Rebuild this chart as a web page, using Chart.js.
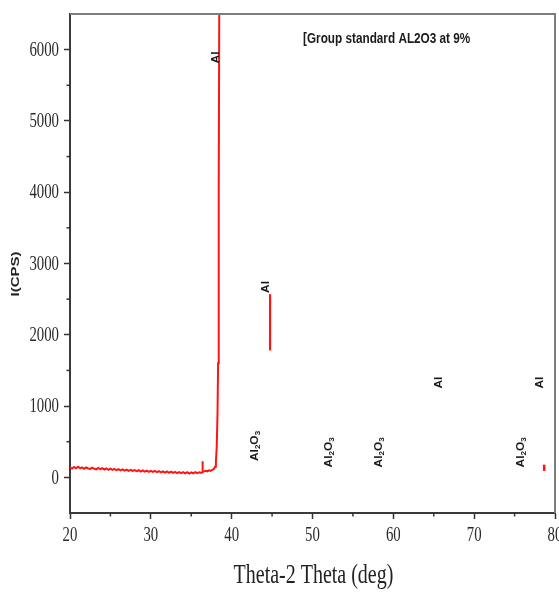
<!DOCTYPE html>
<html>
<head>
<meta charset="utf-8">
<script src="https://cdn.jsdelivr.net/npm/chart.js@4.4.1/dist/chart.umd.min.js"></script>
<style>
  html, body { margin: 0; padding: 0; background: #fff; }
</style>
</head>
<body>
<canvas id="xrdChart" width="559" height="592"></canvas>
<script>
// scan values (2-theta in deg, intensity in CPS)
var thetaScan = [20, 20.25, 20.5, 20.75, 21, 21.25, 21.5, 21.75, 22, 22.25, 22.5, 22.75,
  23, 23.25, 23.5, 23.75, 24, 24.25, 24.5, 24.75, 25, 25.25, 25.5, 25.75,
  26, 26.25, 26.5, 26.75, 27, 27.25, 27.5, 27.75, 28, 28.25, 28.5, 28.75,
  29, 29.25, 29.5, 29.75, 30, 30.25, 30.5, 30.75, 31, 31.25, 31.5, 31.75,
  32, 32.25, 32.5, 32.75, 33, 33.25, 33.5, 33.75, 34, 34.25, 34.5, 34.75,
  35, 35.25, 35.5, 35.75, 36, 36.25, 36.38, 36.4, 36.42, 36.6, 36.8, 37,
  37.2, 37.4, 37.6, 37.8, 37.95, 38.05, 38.15, 38.25, 38.32, 38.4, 38.48];
var cpsScan = [142, 124, 146, 128, 148, 126, 140, 120, 138, 124, 118, 136,
  120, 112, 132, 116, 128, 110, 124, 106, 122, 104, 118, 100,
  114, 98, 112, 94, 108, 92, 106, 90, 102, 86, 100, 82,
  98, 80, 94, 78, 92, 76, 90, 72, 86, 70, 84, 66,
  82, 64, 80, 62, 76, 60, 74, 58, 72, 56, 72, 54,
  70, 56, 74, 58, 72, 62, 72, 225, 80, 84, 92, 84,
  98, 90, 106, 118, 150, 220, 420, 900, 1600, 4000, 7200];

// two short leftover pieces of the trace
var thetaPiece1 = [44.75, 44.75];
var cpsPiece1 = [1780, 2570];
var thetaPiece2 = [78.66, 78.66];
var cpsPiece2 = [90, 178];

// phase markers
var peakNames = ['Al', 'Al', 'Al2O3', 'Al2O3', 'Al2O3', 'Al', 'Al', 'Al2O3'];
var peakTheta = [38.07, 44.26, 42.9, 52.05, 58.24, 65.7, 78.2, 75.8];
var peakCps = [5890, 2670, 440, 350, 350, 1330, 1330, 350];

var xTicks = [20, 30, 40, 50, 60, 70, 80];
var xMinor = [25, 35, 45, 55, 65, 75];
var yTicks = [0, 1000, 2000, 3000, 4000, 5000, 6000];
var yMinor = [500, 1500, 2500, 3500, 4500, 5500];

var headerText = '[Group standard AL2O3 at 9%';
var xTitle = 'Theta-2 Theta (deg)';
var yTitle = 'I(CPS)';

// the original picture is squeezed sideways, so text is drawn narrow
var SX = 0.74;

function toPoints(xs, ys) {
  return xs.map(function (v, i) { return { x: v, y: ys[i] }; });
}

function drawText(ctx, txt, x, y, o) {
  ctx.save();
  ctx.translate(x, y);
  ctx.scale(o.sx || SX, 1);
  if (o.rot) ctx.rotate(o.rot);
  ctx.font = o.font;
  ctx.textAlign = o.align || 'center';
  ctx.textBaseline = o.baseline || 'middle';
  ctx.fillStyle = o.color || '#222';
  ctx.fillText(txt, 0, 0);
  ctx.restore();
}

// rotated Al / Al2O3 label with small subscripts
function drawPhase(ctx, name, x, y) {
  var parts = name === 'Al' ? [['Al', 0]] : [['Al', 0], ['2', 1], ['O', 0], ['3', 1]];
  var mainFont = 'bold 12px "Liberation Sans"';
  var subFont = 'bold 8px "Liberation Sans"';
  ctx.save();
  ctx.translate(x, y);
  ctx.scale(0.85, 1);
  ctx.rotate(-Math.PI / 2);
  ctx.fillStyle = '#1a1a1a';
  ctx.textBaseline = 'middle';
  ctx.textAlign = 'left';
  var total = 0;
  parts.forEach(function (p) {
    ctx.font = p[1] ? subFont : mainFont;
    total += ctx.measureText(p[0]).width;
  });
  var cx = -total / 2;
  parts.forEach(function (p) {
    ctx.font = p[1] ? subFont : mainFont;
    ctx.fillText(p[0], cx, p[1] ? 4 : 0);
    cx += ctx.measureText(p[0]).width;
  });
  ctx.restore();
}

var xrdDecor = {
  id: 'xrdDecor',
  afterDraw: function (chart) {
    var ctx = chart.ctx, a = chart.chartArea;
    var xs = chart.scales.x, ys = chart.scales.y;
    ctx.save();

    // top and right frame
    ctx.strokeStyle = '#7d7d7d';
    ctx.lineWidth = 2;
    ctx.beginPath();
    ctx.moveTo(a.left, a.top);
    ctx.lineTo(a.right, a.top);
    ctx.lineTo(a.right, a.bottom);
    ctx.stroke();

    // minor ticks
    ctx.strokeStyle = '#333';
    ctx.lineWidth = 1.5;
    yMinor.forEach(function (v) {
      var py = ys.getPixelForValue(v);
      ctx.beginPath(); ctx.moveTo(a.left - 3.5, py); ctx.lineTo(a.left, py); ctx.stroke();
    });
    xMinor.forEach(function (v) {
      var px = xs.getPixelForValue(v);
      ctx.beginPath(); ctx.moveTo(px, a.bottom); ctx.lineTo(px, a.bottom + 3.5); ctx.stroke();
    });

    // tick labels
    ys.ticks.forEach(function (t) {
      drawText(ctx, String(t.value), a.left - 11, ys.getPixelForValue(t.value) + 1,
        { font: '20px "Liberation Serif"', align: 'right', color: '#2b2b2b' });
    });
    xs.ticks.forEach(function (t) {
      drawText(ctx, String(t.value), xs.getPixelForValue(t.value), a.bottom + 23,
        { font: '20px "Liberation Serif"', color: '#2b2b2b' });
    });

    // axis titles
    drawText(ctx, xTitle, (a.left + a.right) / 2 + 1, 583,
      { font: '27px "Liberation Serif"', baseline: 'alphabetic', color: '#222' });
    drawText(ctx, yTitle, 16, 274,
      { font: 'bold 15px "Liberation Sans"', rot: -Math.PI / 2, color: '#222' });

    // header note
    drawText(ctx, headerText, 303, 43,
      { font: 'bold 14px "Liberation Sans"', align: 'left', baseline: 'alphabetic', sx: 0.84, color: '#1a1a1a' });

    // phase labels
    peakNames.forEach(function (n, i) {
      drawPhase(ctx, n, xs.getPixelForValue(peakTheta[i]), ys.getPixelForValue(peakCps[i]));
    });
    ctx.restore();
  }
};

var lineStyle = {
  showLine: true,
  borderColor: '#ff1414',
  backgroundColor: '#ff1414',
  pointRadius: 0,
  tension: 0
};

new Chart(document.getElementById('xrdChart'), {
  type: 'scatter',
  data: {
    datasets: [
      Object.assign({ data: toPoints(thetaScan, cpsScan), borderWidth: 2 }, lineStyle),
      Object.assign({ data: toPoints(thetaPiece1, cpsPiece1), borderWidth: 2.2 }, lineStyle),
      Object.assign({ data: toPoints(thetaPiece2, cpsPiece2), borderWidth: 2.6 }, lineStyle)
    ]
  },
  options: {
    responsive: false,
    animation: false,
    layout: { padding: { left: 64, right: 4, top: 14, bottom: 73 } },
    plugins: { legend: { display: false }, tooltip: { enabled: false } },
    scales: {
      x: {
        type: 'linear',
        min: 20,
        max: 80,
        afterBuildTicks: function (s) { s.ticks = xTicks.map(function (v) { return { value: v }; }); },
        ticks: { display: false },
        grid: { drawOnChartArea: false, tickLength: 6, tickColor: '#333', tickWidth: 1.5 },
        border: { color: '#3a3a3a', width: 2 }
      },
      y: {
        min: -500,
        max: 6500,
        afterBuildTicks: function (s) { s.ticks = yTicks.map(function (v) { return { value: v }; }); },
        ticks: { display: false },
        grid: { drawOnChartArea: false, tickLength: 6, tickColor: '#333', tickWidth: 1.5 },
        border: { color: '#3a3a3a', width: 2 }
      }
    }
  },
  plugins: [xrdDecor]
});
</script>
</body>
</html>
